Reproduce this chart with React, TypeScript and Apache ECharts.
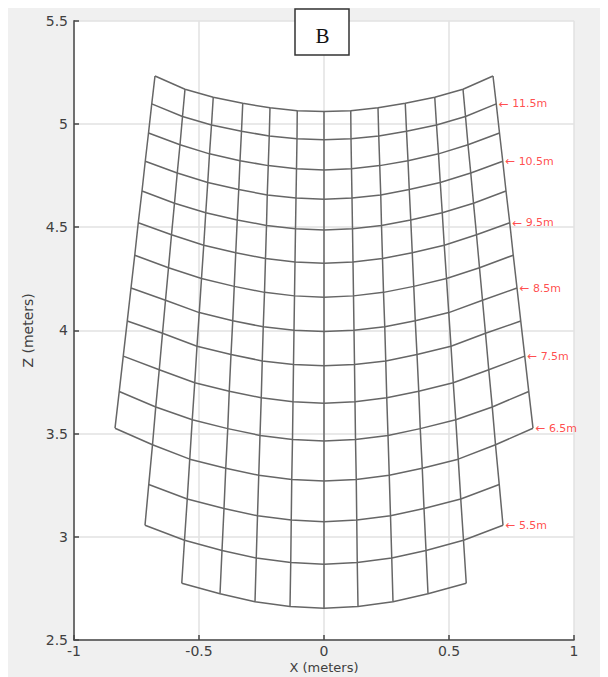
import React, { useEffect, useRef } from "react";
import * as echarts from "echarts";

// Range of each mesh row (top row = 12 m, bottom row = 5 m)
const rowRanges = [12, 11.5, 11, 10.5, 10, 9.5, 9, 8.5, 8, 7.5, 7, 6.5, 6, 5.5, 5];

// Half-row node positions (column 0 = centre, then outward)
const rowHalfX: number[][] = [
  [0, 0.107, 0.216, 0.325, 0.443, 0.556, 0.676],
  [0, 0.108, 0.219, 0.33, 0.45, 0.566, 0.689],
  [0, 0.11, 0.223, 0.336, 0.458, 0.576, 0.702],
  [0, 0.112, 0.227, 0.341, 0.465, 0.587, 0.715],
  [0, 0.114, 0.23, 0.347, 0.473, 0.598, 0.728],
  [0, 0.116, 0.234, 0.353, 0.481, 0.61, 0.743],
  [0, 0.118, 0.238, 0.359, 0.49, 0.622, 0.757],
  [0, 0.12, 0.243, 0.365, 0.499, 0.634, 0.772],
  [0, 0.122, 0.247, 0.372, 0.508, 0.646, 0.787],
  [0, 0.124, 0.251, 0.379, 0.517, 0.659, 0.803],
  [0, 0.126, 0.256, 0.385, 0.527, 0.673, 0.819],
  [0, 0.129, 0.261, 0.393, 0.537, 0.686, 0.836],
  [0, 0.131, 0.266, 0.4, 0.547, 0.701],
  [0, 0.133, 0.271, 0.408, 0.558, 0.716],
  [0, 0.136, 0.276, 0.416, 0.569],
];
const rowHalfZ: number[][] = [
  [5.06, 5.064, 5.078, 5.1, 5.129, 5.168, 5.232],
  [4.923, 4.928, 4.941, 4.965, 4.995, 5.036, 5.097],
  [4.777, 4.783, 4.798, 4.822, 4.855, 4.899, 4.956],
  [4.635, 4.641, 4.656, 4.682, 4.716, 4.762, 4.819],
  [4.486, 4.492, 4.508, 4.535, 4.57, 4.616, 4.675],
  [4.325, 4.331, 4.348, 4.376, 4.412, 4.463, 4.521],
  [4.16, 4.167, 4.184, 4.213, 4.251, 4.303, 4.364],
  [3.994, 4.0, 4.017, 4.047, 4.086, 4.146, 4.205],
  [3.828, 3.834, 3.852, 3.883, 3.923, 3.986, 4.045],
  [3.647, 3.654, 3.673, 3.705, 3.746, 3.809, 3.875],
  [3.464, 3.471, 3.491, 3.524, 3.567, 3.629, 3.704],
  [3.27, 3.278, 3.298, 3.332, 3.376, 3.446, 3.526],
  [3.073, 3.081, 3.102, 3.137, 3.183, 3.253],
  [2.867, 2.875, 2.897, 2.934, 2.983, 3.056],
  [2.654, 2.662, 2.685, 2.724, 2.775],
];

// Annotated rows (labels at the right end of the row)
const labelRanges = [11.5, 10.5, 9.5, 8.5, 7.5, 6.5, 5.5];

const xTicks = { min: -1, max: 1, interval: 0.5 };
const zTicks = { min: 2.5, max: 5.5, interval: 0.5 };

const MESH = "#666666";
const AXIS = "#474747";

function buildOption() {
  const series: any[] = [];
  const lineBase = {
    type: "line",
    showSymbol: false,
    symbol: "none",
    silent: true,
    z: 3,
    lineStyle: { color: MESH, width: 1.5 },
  };
  // rows
  rowHalfX.forEach((xs, r) => {
    const zs = rowHalfZ[r];
    const pts: number[][] = [];
    for (let c = xs.length - 1; c >= 1; c--) pts.push([-xs[c], zs[c]]);
    pts.push([0, zs[0]]);
    for (let c = 1; c < xs.length; c++) pts.push([xs[c], zs[c]]);
    series.push({ ...lineBase, name: `row${rowRanges[r]}`, data: pts });
  });
  // columns
  for (let c = -6; c <= 6; c++) {
    const a = Math.abs(c);
    const s = c < 0 ? -1 : 1;
    const pts: number[][] = [];
    rowHalfX.forEach((xs, r) => {
      if (xs.length > a) pts.push([s * xs[a], rowHalfZ[r][a]]);
    });
    series.push({ ...lineBase, name: `col${c}`, data: pts });
  }
  // labels
  const labelData = labelRanges.map((rg) => {
    const r = rowRanges.indexOf(rg);
    const xs = rowHalfX[r];
    const zs = rowHalfZ[r];
    const n = xs.length - 1;
    return { name: `${rg}m`, value: [xs[n], zs[n]] };
  });
  series.push({
    type: "scatter",
    silent: true,
    symbolSize: 1,
    itemStyle: { color: "rgba(0,0,0,0)" },
    z: 5,
    data: labelData,
    label: {
      show: true,
      position: "right",
      distance: 2,
      formatter: (p: any) => `{a|\u2190} {t|${p.name}}`,
      rich: {
        a: { fontSize: 12, color: "#ff2020", fontFamily: "DejaVu Sans" },
        t: { fontSize: 11, color: "#ff2020", fontFamily: "DejaVu Sans" },
      },
    },
  });

  return {
    animation: false,
    backgroundColor: "transparent",
    grid: {
      left: 66,
      top: 12.7,
      width: 500,
      height: 619.3,
      show: true,
      backgroundColor: "#ffffff",
      borderWidth: 0,
      containLabel: false,
      outerBoundsMode: "none",
    },
    xAxis: {
      type: "value",
      min: xTicks.min,
      max: xTicks.max,
      interval: xTicks.interval,
      name: "X (meters)",
      nameLocation: "middle",
      nameGap: 21,
      nameMoveOverlap: false,
      nameTextStyle: { fontSize: 13, color: "#404040", fontFamily: "DejaVu Sans" },
      axisLine: { show: true, onZero: false, lineStyle: { color: AXIS, width: 1.5 } },
      axisTick: { show: true, inside: true, length: 5, lineStyle: { color: AXIS, width: 1.5 } },
      axisLabel: { margin: 4, fontSize: 14, color: "#404040", fontFamily: "DejaVu Sans" },
      splitLine: { show: true, lineStyle: { color: "#e2e2e2", width: 1.5 } },
    },
    yAxis: {
      type: "value",
      min: zTicks.min,
      max: zTicks.max,
      interval: zTicks.interval,
      name: "Z (meters)",
      nameLocation: "middle",
      nameGap: 24,
      nameRotate: 90,
      nameTextStyle: { fontSize: 14, color: "#404040", fontFamily: "DejaVu Sans" },
      axisLine: { show: true, onZero: false, lineStyle: { color: AXIS, width: 1.5 } },
      axisTick: { show: true, inside: true, length: 5, lineStyle: { color: AXIS, width: 1.5 } },
      axisLabel: { margin: 6, fontSize: 14, color: "#404040", fontFamily: "DejaVu Sans" },
      splitLine: { show: true, lineStyle: { color: "#e2e2e2", width: 1.5 } },
    },
    graphic: [
      {
        type: "group",
        z: 100,
        children: [
          {
            type: "rect",
            shape: { x: 287, y: 1, width: 54, height: 46 },
            style: { fill: "#ffffff", stroke: "#333333", lineWidth: 1.5 },
            z: 100,
          },
          {
            type: "text",
            x: 314.5,
            y: 27.5,
            style: {
              text: "B",
              fontSize: 21,
              fontFamily: "Liberation Serif, Times New Roman, serif",
              fill: "#111111",
              align: "center",
              verticalAlign: "middle",
            },
            z: 101,
          },
        ],
      },
    ],
    series,
  };
}

export default function App() {
  const ref = useRef<HTMLDivElement>(null);
  useEffect(() => {
    if (!ref.current) return;
    const chart = echarts.init(ref.current, undefined, { renderer: "svg" });
    chart.setOption(buildOption() as any);
    return () => chart.dispose();
  }, []);
  return (
    <div
      ref={ref}
      style={{ width: 600, height: 669, background: "#f0f0f0", overflow: "hidden" }}
    />
  );
}
